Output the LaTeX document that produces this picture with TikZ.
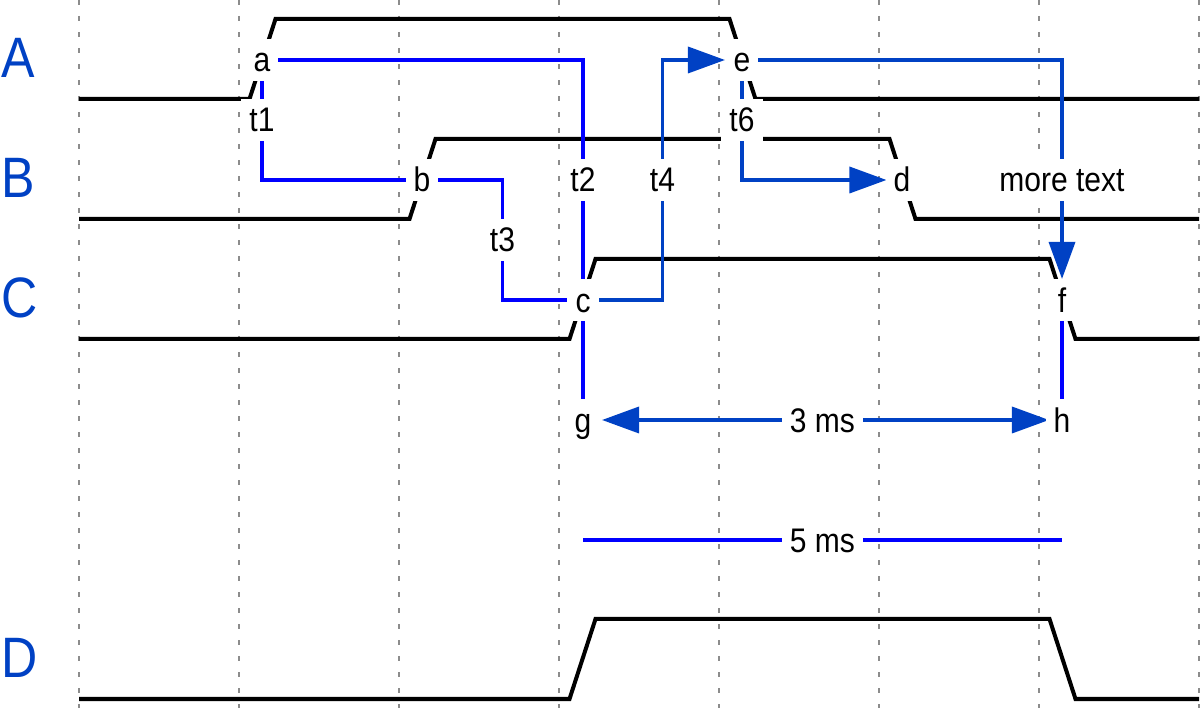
\documentclass[tikz,border=0pt]{standalone}
\usepackage{fontspec}
\usetikzlibrary{arrows.meta}
\newfontfamily\wdfont{Liberation Sans}[FakeStretch=0.88]
\definecolor{lanecol}{HTML}{0041C4}
\definecolor{plainblue}{HTML}{0000FF}
\definecolor{gridgray}{HTML}{8C8C8C}

\begin{document}
\begin{tikzpicture}[x=0.01cm, y=-0.01cm,
  wave/.style={line width=0.04cm, black, line join=miter},
  gridline/.style={gridgray, line width=0.02cm, dash pattern=on 0.05cm off 0.11cm},
  lane/.style={anchor=base west, inner sep=0pt, text=lanecol,
    font=\wdfont\fontsize{16.2pt}{18pt}\selectfont},
  lbl/.style={fill=white, inner xsep=0.08cm, inner ysep=0pt,
    text height=0.325cm, text depth=0.085cm,
    font=\wdfont\fontsize{9.7pt}{11pt}\selectfont},
  link/.style={plainblue, line width=0.035cm},
  arrlink/.style={lanecol, line width=0.035cm, -{Triangle[length=0.37cm,width=0.26cm]}},
  dimlink/.style={lanecol, line width=0.035cm,
    {Triangle[length=0.37cm,width=0.26cm]}-{Triangle[length=0.37cm,width=0.26cm]}},
]
\useasboundingbox (0,0) rectangle (1200,719);

% period grid
\foreach \gx in {79,239,...,1199}
  \draw[gridline] (\gx,0) -- (\gx,708);

% waveforms
\draw[wave] (79,99)  -- (249.5,99)  -- (275.5,19)  -- (729.5,19)  -- (755.5,99)  -- (1199,99);
\draw[wave] (79,219) -- (409.5,219) -- (435.5,139) -- (889.5,139) -- (915.5,219) -- (1199,219);
\draw[wave] (79,339) -- (569.5,339) -- (595.5,259) -- (1049.5,259) -- (1075.5,339) -- (1199,339);
\draw[wave] (79,699) -- (569.5,699) -- (595.5,619) -- (1049.5,619) -- (1075.5,699) -- (1199,699);

% event points
\coordinate (a) at (262,60);
\coordinate (b) at (422,180);
\coordinate (c) at (583,300);
\coordinate (d) at (902,180);
\coordinate (e) at (742,60);
\coordinate (f) at (1062,300);
\coordinate (g) at (583,420);
\coordinate (h) at (1062,420);
\coordinate (i) at (583,540);
\coordinate (j) at (1062,540);
\coordinate (bcmid) at (502.5,240);
\coordinate (cemid) at (662.5,180);

% timing relations
\draw[link] (a) |- (b);
\draw[link] (a) -| (c);
\draw[link] (b) -| (bcmid) |- (c);
\draw[arrlink, shorten >=0.17cm] (c) -| (cemid) |- (e);
\draw[arrlink, shorten >=0.155cm] (e) |- (d);
\draw[arrlink, shorten >=0.21cm] (e) -| (f);
\draw[link] (c) -- (g);
\draw[link] (f) -- (h);
\draw[dimlink, shorten <=0.19cm, shorten >=0.13cm] (g) -- (h);
\draw[link] (i) -- (j);

% point labels
\node[lbl] (la) at (a) {a};
\node[lbl] (lb) at (b) {b};
\node[lbl] (lc) at (c) {c};
\node[lbl] (ld) at (d) {d};
\node[lbl] (le) at (e) {e};
\node[lbl] (lf) at (f) {f};
\node[lbl] (lg) at (g) {g};
\node[lbl] (lh) at (h) {h};

% relation labels
\node[lbl] (t1) at (262,120) {t1};
\node[lbl] (t2) at (583,180) {t2};
\node[lbl] (t3) at (502.5,240) {t3};
\node[lbl] (t4) at (662.5,180) {t4};
\node[lbl] (t6) at (742,120) {t6};
\node[lbl] (more) at (1062,180) {more text};
\node[lbl] (ms3) at (822.5,420) {3 ms};
\node[lbl] (ms5) at (822.5,540) {5 ms};

% lane names
\node[lane] (laneA) at (1,78)  {A};
\node[lane] (laneB) at (1,198) {B};
\node[lane] (laneC) at (1,318) {C};
\node[lane] (laneD) at (1,678) {D};
\end{tikzpicture}
\end{document}
